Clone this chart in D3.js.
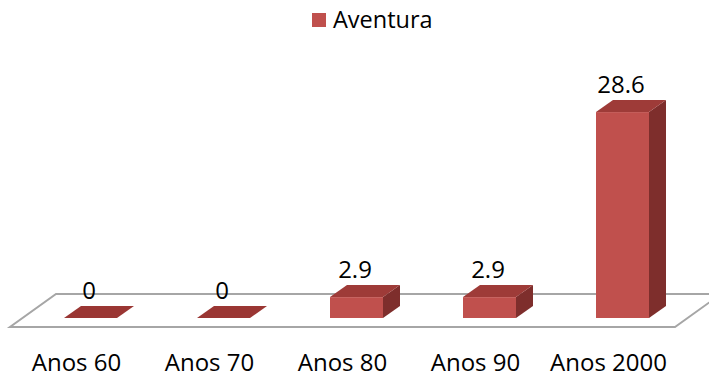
<!DOCTYPE html>
<html>
<head>
<meta charset="utf-8">
<script src="https://cdn.jsdelivr.net/npm/d3@7"></script>
<style>
  html, body { margin: 0; padding: 0; background: #fff; }
  svg { display: block; font-family: "Open Sans", "Noto Sans", sans-serif; }
</style>
</head>
<body>
<svg id="chart" width="709" height="377"></svg>
<script>
// Share of adventure films per decade
const categories = ["Anos 60", "Anos 70", "Anos 80", "Anos 90", "Anos 2000"];
const values = [0, 0, 2.9, 2.9, 28.6];
const seriesName = "Aventura";

const svg = d3.select("#chart");

// Oblique 3D projection: depth step of each bar and of the floor
const barDx = 17, barDy = -12;
const floorDx = 46, floorDy = -33;
const floorFront = 327;      // y of the floor's front edge
const barFront = 318;        // y where the bars' front faces rest

const x = d3.scaleBand().domain(categories).range([10, 675]).padding(0);
const y = d3.scaleLinear().domain([0, 30]).range([barFront, barFront - 216]);
const barW = 53;
const barShift = 14; // bars sit halfway back on the floor

const colors = { front: "#C0504D", top: "#9E3B38", side: "#7E2E2C", flat: "#9A3633" };
const fontFamily = "\"Open Sans\", \"Noto Sans\", sans-serif";

// Floor
const fx0 = x.range()[0], fx1 = x.range()[1];
svg.append("path")
  .attr("d", `M${fx0},${floorFront} L${fx1},${floorFront} L${fx1 + floorDx},${floorFront + floorDy} L${fx0 + floorDx},${floorFront + floorDy} Z`)
  .attr("fill", "#fff")
  .attr("stroke", "#A6A6A6")
  .attr("stroke-width", 2)
  .attr("stroke-linejoin", "miter");

const data = categories.map((c, i) => ({ c, v: values[i] }));
const left = d => x(d.c) + x.bandwidth() / 2 + barShift - barW / 2;

const bars = svg.append("g").selectAll("g").data(data).join("g");

bars.each(function (d) {
  const g = d3.select(this);
  const x0 = left(d), x1 = x0 + barW;
  const yb = y(0), yt = y(d.v);
  if (d.v === 0) {
    g.append("path")
      .attr("d", `M${x0},${yb} L${x1},${yb} L${x1 + barDx},${yb + barDy} L${x0 + barDx},${yb + barDy} Z`)
      .attr("fill", colors.flat);
    return;
  }
  // side face
  g.append("path")
    .attr("d", `M${x1},${yt} L${x1 + barDx},${yt + barDy} L${x1 + barDx},${yb + barDy} L${x1},${yb} Z`)
    .attr("fill", colors.side);
  // top face
  g.append("path")
    .attr("d", `M${x0},${yt} L${x1},${yt} L${x1 + barDx},${yt + barDy} L${x0 + barDx},${yt + barDy} Z`)
    .attr("fill", colors.top);
  // front face
  g.append("rect")
    .attr("x", x0).attr("y", yt)
    .attr("width", barW).attr("height", yb - yt)
    .attr("fill", colors.front);
});

// Value labels
svg.append("g").selectAll("text").data(data).join("text")
  .attr("x", d => left(d) + barW / 2 - 1.5)
  .attr("y", d => y(d.v) - 19.5)
  .attr("text-anchor", "middle")
  .attr("font-family", fontFamily)
  .attr("font-size", 24)
  .attr("fill", "#000")
  .text(d => d.v);

// Category axis
const axis = svg.append("g")
  .attr("transform", `translate(0,${floorFront})`)
  .call(d3.axisBottom(x).tickSize(0).tickPadding(0));
axis.select(".domain").remove();
axis.selectAll("text")
  .attr("y", 44)
  .attr("dy", 0)
  .attr("font-size", 24)
  .attr("font-family", fontFamily)
  .attr("fill", "#000");

// Legend
const legend = svg.append("g").attr("transform", "translate(312,13)");
legend.append("rect").attr("width", 14).attr("height", 14).attr("fill", colors.front);
legend.append("text")
  .attr("x", 21).attr("y", 15)
  .attr("font-family", fontFamily)
  .attr("font-size", 23.5)
  .attr("fill", "#000")
  .text(seriesName);
</script>
</body>
</html>
